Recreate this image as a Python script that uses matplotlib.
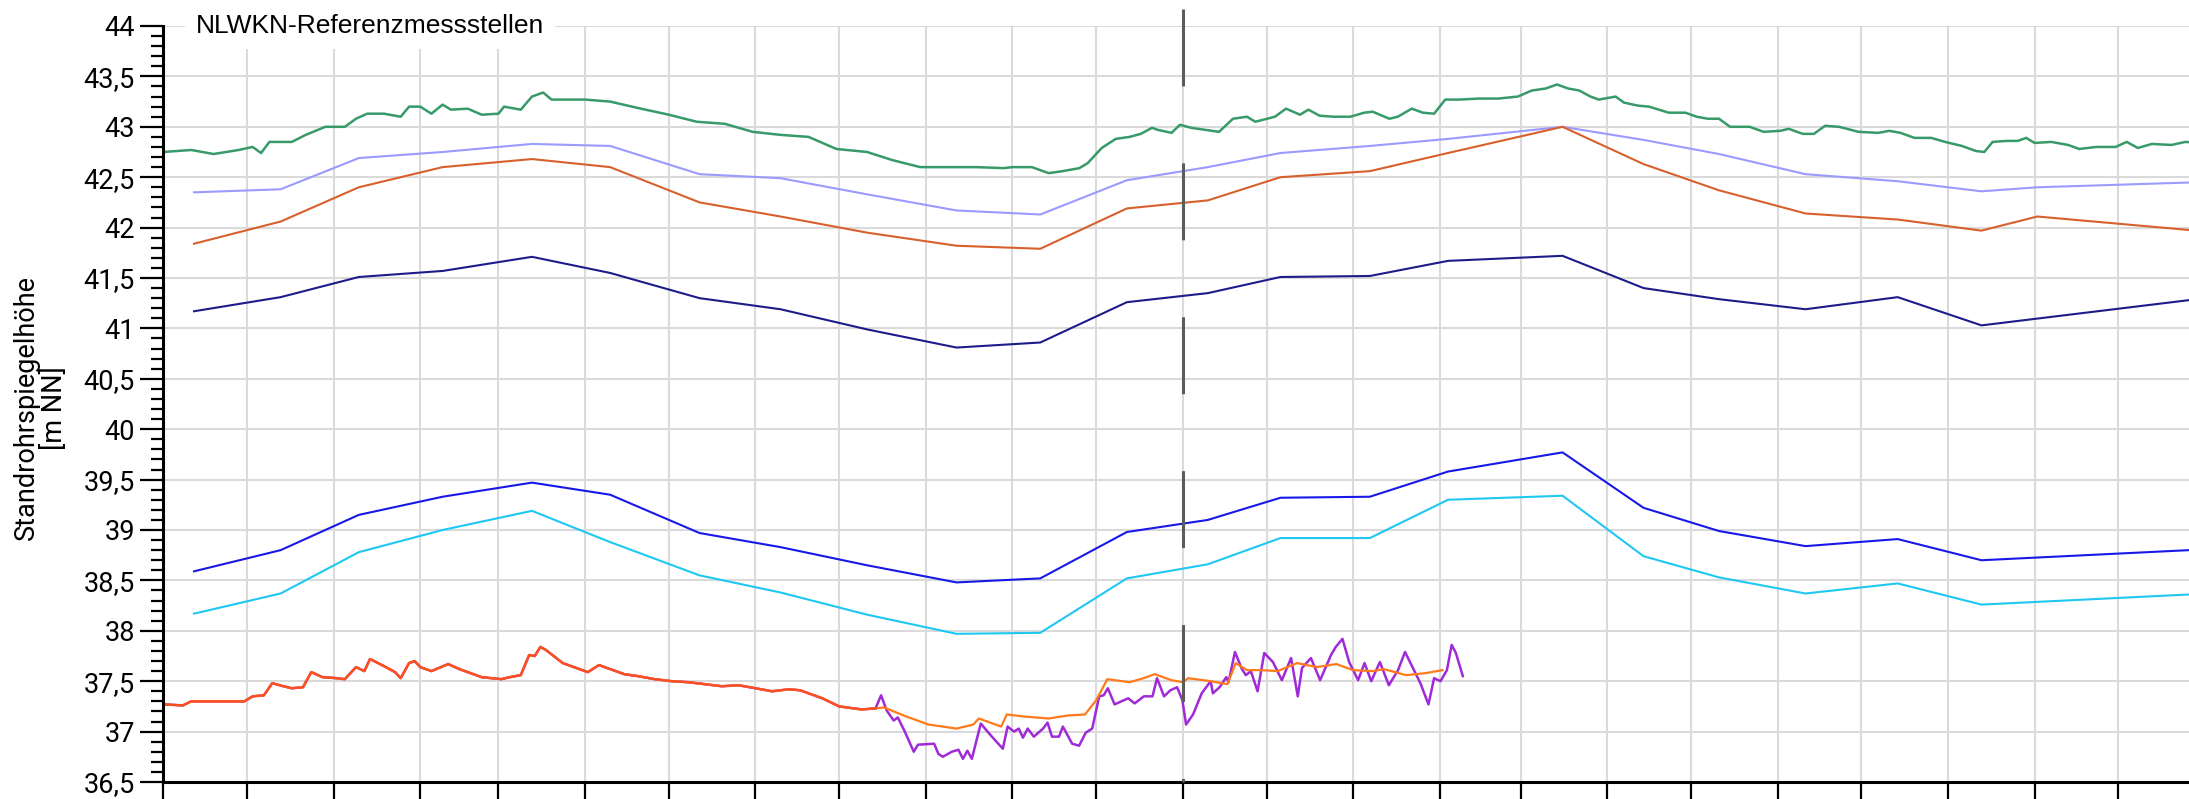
import numpy as np
import pandas as pd
import matplotlib
matplotlib.use('Agg')
import matplotlib.pyplot as plt
import matplotlib.dates as mdates
from matplotlib.ticker import MultipleLocator, FuncFormatter, NullFormatter

plt.rcParams['font.family'] = ['Roboto', 'DejaVu Sans']
plt.rcParams['lines.scale_dashes'] = False

# hydrological years 2023 and 2024 (start 1 Nov)
start = np.datetime64('2022-11-01')
x_end_days = 725.3

# monthly manual readings
dates_a = ['2022-11-12', '2022-12-13', '2023-01-10', '2023-02-09', '2023-03-13', '2023-04-10',
           '2023-05-12', '2023-06-10', '2023-07-11', '2023-08-12', '2023-09-11', '2023-10-12',
           '2023-11-10', '2023-12-06', '2024-01-07', '2024-02-04', '2024-03-16', '2024-04-14',
           '2024-05-11', '2024-06-11', '2024-07-14', '2024-08-13', '2024-09-02', '2024-11-10']
dates_b = dates_a[:22] + ['2024-11-10']

lavender = [42.35, 42.38, 42.69, 42.75, 42.83, 42.81, 42.53, 42.49, 42.33, 42.17, 42.13, 42.47,
            42.60, 42.74, 42.81, 42.88, 43.00, 42.87, 42.73, 42.53, 42.46, 42.36, 42.40, 42.46]
brown = [41.84, 42.06, 42.40, 42.60, 42.68, 42.60, 42.25, 42.11, 41.95, 41.82, 41.79, 42.19,
         42.27, 42.50, 42.56, 42.74, 43.00, 42.63, 42.37, 42.14, 42.08, 41.97, 42.11, 41.94]
navy = [41.17, 41.31, 41.51, 41.57, 41.71, 41.55, 41.30, 41.19, 40.99, 40.81, 40.86, 41.26,
        41.35, 41.51, 41.52, 41.67, 41.72, 41.40, 41.29, 41.19, 41.31, 41.03, 41.33]
blue = [38.59, 38.80, 39.15, 39.33, 39.47, 39.35, 38.97, 38.83, 38.65, 38.48, 38.52, 38.98,
        39.10, 39.32, 39.33, 39.58, 39.77, 39.22, 38.99, 38.84, 38.91, 38.70, 38.82]
cyan = [38.17, 38.37, 38.78, 39.00, 39.19, 38.88, 38.55, 38.38, 38.16, 37.97, 37.98, 38.52,
        38.66, 38.92, 38.92, 39.30, 39.34, 38.74, 38.53, 38.37, 38.47, 38.26, 38.38]

# daily logger series (days since 1 Nov 2022)
green_day = [0, 10, 18, 27, 32, 35, 38, 46, 51, 58, 65, 69, 73, 79, 85, 88, 92, 96, 100, 103,
             109, 114, 120, 122, 128, 132, 136, 139, 144, 151, 160, 171, 181, 191, 201, 211, 221, 231, 241, 252,
             261, 271, 281, 291, 301, 304, 311, 317, 322, 328, 331, 336, 341, 346, 350, 354, 356, 361, 364, 368,
             373, 378, 383, 388, 391, 398, 402, 407, 410, 414, 419, 425, 430, 433, 439, 442, 447, 451, 455, 459,
             464, 471, 478, 485, 490, 495, 499, 503, 507, 511, 514, 520, 523, 528, 532, 539, 545, 549, 553, 557,
             561, 568, 573, 579, 582, 587, 591, 595, 600, 607, 614, 618, 622, 627, 633, 638, 644, 649, 652, 655,
             660, 664, 667, 670, 676, 682, 686, 692, 699, 703, 707, 712, 719, 724, 730]
green_m = [42.75, 42.77, 42.73, 42.77, 42.80, 42.74, 42.85, 42.85, 42.92, 43.00,
           43.00, 43.08, 43.13, 43.13, 43.10, 43.20, 43.20, 43.13, 43.22, 43.17,
           43.18, 43.12, 43.13, 43.20, 43.17, 43.30, 43.34, 43.27, 43.27, 43.27,
           43.25, 43.18, 43.12, 43.05, 43.03, 42.95, 42.92, 42.90, 42.78, 42.75,
           42.67, 42.60, 42.60, 42.60, 42.59, 42.60, 42.60, 42.54, 42.56, 42.59,
           42.64, 42.79, 42.88, 42.90, 42.93, 42.99, 42.97, 42.94, 43.02, 42.99,
           42.97, 42.95, 43.08, 43.10, 43.05, 43.10, 43.18, 43.12, 43.17, 43.11,
           43.10, 43.10, 43.14, 43.15, 43.08, 43.10, 43.18, 43.14, 43.13, 43.27,
           43.27, 43.28, 43.28, 43.30, 43.36, 43.38, 43.42, 43.38, 43.36, 43.30,
           43.27, 43.30, 43.24, 43.21, 43.20, 43.14, 43.14, 43.10, 43.08, 43.08,
           43.00, 43.00, 42.95, 42.96, 42.98, 42.93, 42.93, 43.01, 43.00, 42.95,
           42.94, 42.96, 42.94, 42.89, 42.89, 42.85, 42.81, 42.76, 42.75, 42.85,
           42.86, 42.86, 42.89, 42.84, 42.85, 42.82, 42.78, 42.80, 42.80, 42.85,
           42.79, 42.83, 42.82, 42.85, 42.84]

# both lower loggers read the same until mid July 2023
common_day = [0, 7, 10, 18, 29, 32, 36, 39, 43, 46, 50, 53, 57, 62, 65, 69, 72, 74, 79, 83,
              85, 88, 90, 92, 96, 102, 106, 114, 121, 124, 128, 131, 133, 135, 137, 143, 147, 152, 156, 160,
              165, 170, 176, 182, 188, 194, 200, 206, 212, 218, 224, 228, 236, 242, 250, 255]
common_m = [37.27, 37.26, 37.30, 37.30, 37.30, 37.35, 37.36, 37.48, 37.45, 37.43,
            37.44, 37.59, 37.54, 37.53, 37.52, 37.64, 37.60, 37.72, 37.65, 37.59,
            37.53, 37.68, 37.70, 37.64, 37.60, 37.67, 37.62, 37.54, 37.52, 37.54,
            37.56, 37.76, 37.75, 37.84, 37.81, 37.68, 37.64, 37.59, 37.66, 37.62,
            37.57, 37.55, 37.52, 37.50, 37.49, 37.47, 37.45, 37.46, 37.43, 37.40,
            37.42, 37.41, 37.33, 37.25, 37.22, 37.23]
orange_day = [258, 266, 274, 284, 290, 292, 300, 302, 308, 317, 324, 330, 334, 338, 346, 351, 355, 361, 365, 367,
              375, 381, 384, 388, 393, 399, 406, 413, 420, 426, 433, 437, 445, 452, 458]
orange_m = [37.24, 37.15, 37.07, 37.03, 37.07, 37.13, 37.05, 37.17, 37.15, 37.13,
            37.16, 37.17, 37.31, 37.52, 37.49, 37.53, 37.57, 37.51, 37.49, 37.53,
            37.50, 37.47, 37.68, 37.61, 37.61, 37.60, 37.68, 37.64, 37.67, 37.61,
            37.60, 37.62, 37.56, 37.58, 37.61]
purple_day = [257, 259, 261.5, 263, 265.5, 268.7, 270.2, 276, 277.5, 279.1,
              282.3, 284.7, 286.3, 287.9, 289.5, 292.7, 295.1, 298.3, 300.6, 302.3,
              304.6, 306.3, 307.8, 309.5, 311.7, 315, 316.6, 318.2, 320.7, 322.1,
              325.4, 327.9, 330.3, 332.6, 335.1, 336.7, 338.2, 340.6, 343, 345.5,
              347.8, 351.1, 354.2, 355.8, 358.3, 360.6, 363, 364.9, 366.2, 368.7,
              371.8, 375, 375.8, 378.2, 380.6, 381.4, 383.7, 386.2, 387.6, 389.4,
              391.8, 394.2, 397.3, 400.5, 403.8, 406.2, 407.7, 410.9, 414.2, 418.1,
              419.8, 422.2, 424.6, 427.8, 430.1, 432.5, 435.6, 438.8, 442.1, 444.6,
              450.1, 453, 455, 457.3, 459.6, 461.3, 462.8, 465.3]
purple_m = [37.36, 37.21, 37.11, 37.14, 37.00, 36.80, 36.87, 36.88, 36.78, 36.75,
            36.80, 36.82, 36.73, 36.81, 36.73, 37.08, 37.00, 36.90, 36.83, 37.05,
            37.00, 37.03, 36.94, 37.03, 36.95, 37.03, 37.09, 36.95, 36.95, 37.05,
            36.88, 36.86, 36.99, 37.03, 37.35, 37.36, 37.43, 37.27, 37.30, 37.33,
            37.28, 37.35, 37.35, 37.53, 37.35, 37.41, 37.44, 37.31, 37.07, 37.17,
            37.38, 37.50, 37.38, 37.44, 37.54, 37.49, 37.79, 37.62, 37.56, 37.60,
            37.40, 37.78, 37.69, 37.51, 37.73, 37.35, 37.63, 37.73, 37.51, 37.76,
            37.84, 37.92, 37.69, 37.51, 37.68, 37.50, 37.69, 37.46, 37.61, 37.79,
            37.48, 37.27, 37.53, 37.50, 37.61, 37.86, 37.78, 37.55]

t0 = mdates.date2num(start)


def day_axis(days):
  return t0 + np.asarray(days, dtype=float)


W, H = 2189, 799
fig = plt.figure(figsize=(W / 100, H / 100), dpi=100)
left, bottom, top = 163.3, 782, 26
ax = fig.add_axes([left / W, (H - bottom) / H, 1 - left / W, (bottom - top) / H])

lw = 1.5
ax.plot(pd.to_datetime(dates_a), lavender, color='#9a9aff', lw=lw)
ax.plot(pd.to_datetime(dates_a), brown, color='#d8602c', lw=lw)
ax.plot(pd.to_datetime(dates_b), navy, color='#1c1c8a', lw=lw)
ax.plot(pd.to_datetime(dates_b), blue, color='#1818e8', lw=lw)
ax.plot(pd.to_datetime(dates_b), cyan, color='#1ec8f2', lw=lw)
ax.plot(day_axis(green_day), green_m, color='#379a68', lw=1.8)

ax.plot(day_axis(common_day + purple_day), common_m + purple_m, color='#a02ad6', lw=1.8)
ax.plot(day_axis(common_day + orange_day), common_m + orange_m, color='#ff7a1a', lw=1.6)
ax.plot(day_axis(common_day), common_m, color='#ff4f1f', lw=1.6)

# start of the new hydrological year
x_new = day_axis([365])[0]
ax.plot([x_new, x_new], [(bottom - 9) / (bottom - top), 0], transform=ax.get_xaxis_transform(),
        clip_on=False, color='#5c5c5c', lw=2.2, dashes=(55.4, 55.4), zorder=4)

ax.set_xlim(t0, t0 + x_end_days)
ax.set_ylim(36.5, 44)

ax.xaxis.set_major_locator(mdates.MonthLocator())
ax.xaxis.set_major_formatter(NullFormatter())
ax.yaxis.set_major_locator(MultipleLocator(0.5))
ax.yaxis.set_minor_locator(MultipleLocator(0.1))
ax.yaxis.set_major_formatter(FuncFormatter(lambda v, p: ('%g' % v).replace('.', ',')))

ax.grid(which='major', color='#dadada', lw=1.5)
ax.set_axisbelow(True)

for s in ['top', 'right']:
  ax.spines[s].set_visible(False)
for s in ['left', 'bottom']:
  ax.spines[s].set_linewidth(2.2)
  ax.spines[s].set_color('black')

ax.tick_params(axis='y', which='major', length=16.5, width=1.6, labelsize=19.5, pad=4)
ax.tick_params(axis='y', which='minor', length=8.5, width=1.6)
ax.tick_params(axis='x', which='major', length=16.5, width=1.6)

ax.text((196 - left) / (W - left), 1.0, 'NLWKN-Referenzmessstellen', transform=ax.transAxes,
        ha='left', va='center', fontsize=19, family=['Liberation Sans', 'DejaVu Sans'],
        bbox=dict(facecolor='white', edgecolor='none', pad=8), zorder=5)

fig.text(40 / W, 1 - 408 / H, 'Standrohrspiegelhöhe\n[m NN]', rotation=90,
         ha='center', va='center', fontsize=19.5, linespacing=1.05)

fig.savefig('out.png', dpi=100)
